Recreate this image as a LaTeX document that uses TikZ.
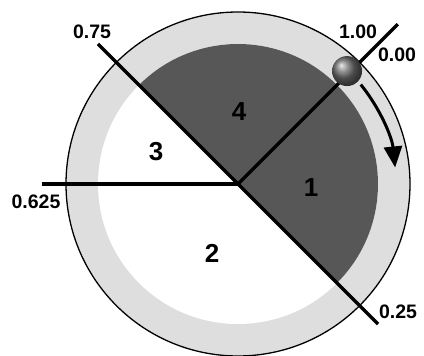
\documentclass[tikz,border=0pt]{standalone}
\usepackage{fontspec}
\setmainfont{Liberation Sans}
\usetikzlibrary{arrows.meta,calc}
\definecolor{ringgray}{HTML}{DEDEDE}
\definecolor{darkgray}{HTML}{575757}
\begin{document}
\begin{tikzpicture}[x=1pt,y=1pt,
  divider/.style={line width=3.4pt,line cap=butt},
  lbl/.style={font=\fontsize{19.5}{19.5}\selectfont\bfseries,inner sep=0pt},
  regnum/.style={font=\fontsize{26}{26}\selectfont\bfseries,inner sep=0pt}]
\useasboundingbox (0,0) rectangle (424,356);
\coordinate (c) at (238,172);
% ring and inner disc
\fill[ringgray] (c) circle[radius=172];
\draw[line width=1.3pt] (c) circle[radius=172];
\fill[white] (c) circle[radius=140];
\fill[darkgray] (c) -- ++(135:140) arc[start angle=135,end angle=-45,radius=140] -- cycle;
% end points
\coordinate (p0) at ($(c)+(45:226)$);
\coordinate (p25) at ($(c)+(-45:198)$);
\coordinate (p75) at ($(c)+(135:198)$);
\coordinate (p625) at ($(c)+(180:196)$);
\draw[divider] (c) -- (p0);
\draw[divider] (p75) -- (p25);
\draw[divider] (c) -- (p625);
% arrow
\draw[line width=3pt,-{Triangle[width=18pt,length=21pt]}] ($(c)+(39:158)$) arc[start angle=39,end angle=6,radius=158];
% ball
\node[circle,minimum size=30pt,inner sep=0pt,ball color=gray!85!black] (ball) at ($(c)+(46:157)$) {};
% labels
\node[lbl] (l100) at (358,324) {1.00};
\node[lbl] (l000) at (397,301) {0.00};
\node[lbl] (l75) at (92,324) {0.75};
\node[lbl] (l625) at (36,154) {0.625};
\node[lbl] (l25) at (398,44) {0.25};
% region numbers
\node[regnum] (r4) at (239,244) {4};
\node[regnum] (r3) at (156,204) {3};
\node[regnum] (r1) at (311,168) {1};
\node[regnum] (r2) at (212,103) {2};
\end{tikzpicture}
\end{document}
